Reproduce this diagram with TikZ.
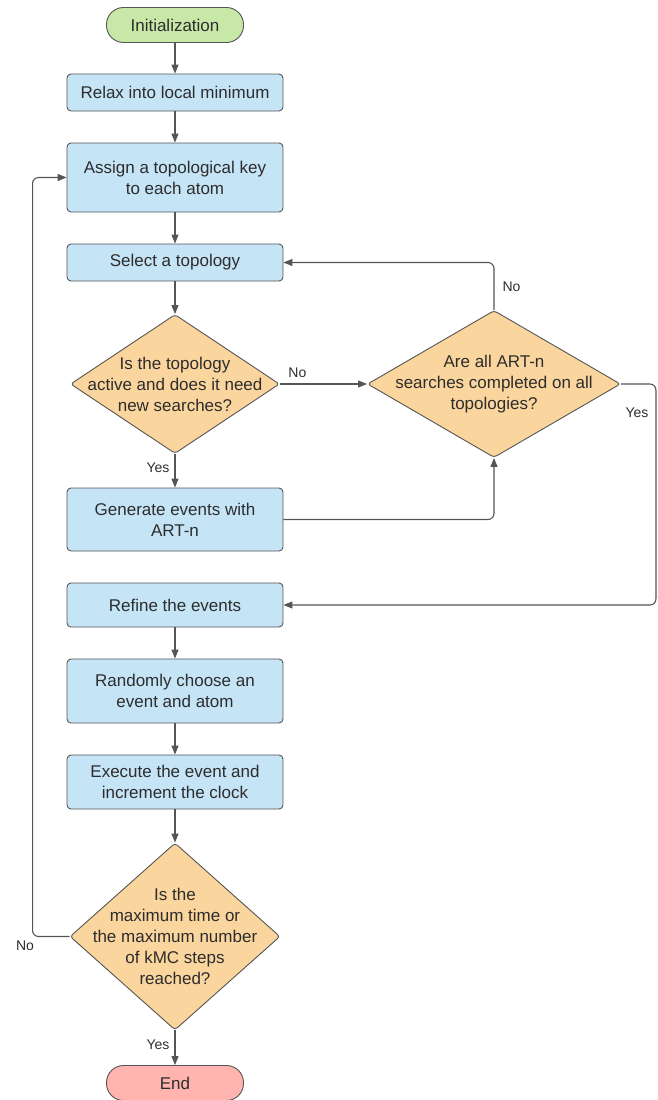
\documentclass[tikz,border=0pt]{standalone}
\usepackage{fontspec}
\setmainfont{Liberation Sans}
\usetikzlibrary{positioning, arrows.meta, shapes.geometric}
\definecolor{boxblue}{RGB}{197,228,246}
\definecolor{deciorange}{RGB}{250,213,158}
\definecolor{startgreen}{RGB}{200,232,168}
\definecolor{endred}{RGB}{255,180,175}
\definecolor{edgegray}{RGB}{85,85,85}
\definecolor{txtgray}{RGB}{45,45,45}

\begin{document}
\begin{tikzpicture}[
  x=1pt, y=-1pt,
  proc/.style={draw=edgegray, line width=0.9pt, fill=boxblue, rounded corners=4pt, minimum width=216pt, inner sep=0pt, align=center, text=txtgray, font=\fontsize{17}{21}\selectfont},
  term/.style={draw=edgegray, line width=0.9pt, rounded corners=17pt, minimum width=137pt, minimum height=35pt, inner sep=0pt, text=txtgray, font=\fontsize{17}{21}\selectfont},
  decision/.style={diamond, draw=edgegray, line width=0.9pt, fill=deciorange, rounded corners=3pt, inner xsep=-60pt, inner ysep=-40pt, align=center, text=txtgray, font=\fontsize{17}{21}\selectfont},
  lbl/.style={inner sep=2pt, text=txtgray, font=\fontsize{14}{16}\selectfont},
  flow/.style={draw=edgegray, line width=1.1pt, rounded corners=6pt, -{Triangle[length=9pt, width=7pt]}}
]
\useasboundingbox (0,0) rectangle (658,1100);

% main column
\node[term, fill=startgreen] (init) at (175,25) {Initialization};
\node[proc, minimum height=37pt] (relax) at (175,92.5) {Relax into local minimum};
\node[proc, minimum height=69pt] (assign) at (175,177.5) {Assign a topological key\\to each atom};
\node[proc, minimum height=37pt] (select) at (175,262.5) {Select a topology};
\node[decision, minimum width=209pt, minimum height=139pt] (active) at (175,384) {Is the topology\\active and does it need\\new searches?};
\node[proc, minimum height=63pt] (gen) at (175,519.5) {Generate events with\\ART-n};
\node[proc, minimum height=44pt] (refine) at (175,605) {Refine the events};
\node[proc, minimum height=64pt] (pick) at (175,691) {Randomly choose an\\event and atom};
\node[proc, minimum height=54pt] (exec) at (175,782) {Execute the event and\\increment the clock};
\node[decision, minimum width=210pt, minimum height=187pt] (maxed) at (175,936.5) {Is the\\maximum time or\\the maximum number\\of kMC steps\\reached?};
\node[term, fill=endred] (fin) at (175,1083) {End};

% right branch
\node[decision, minimum width=253pt, minimum height=147pt] (alldone) at (494,384) {Are all ART-n\\searches completed on all\\topologies?};

\draw[flow] (init) -- (relax);
\draw[flow] (relax) -- (assign);
\draw[flow] (assign) -- (select);
\draw[flow] (select) -- (active);
\draw[flow] (active.east) -- node[lbl, pos=0.2, above=4pt] {No} (alldone.west);
\draw[flow] (active.south) -- node[lbl, left=3pt, pos=0.4] {Yes} (gen.north);
\draw[flow] (gen.east) -| (alldone.south);
\draw[flow] (alldone.north) |- node[lbl, pos=0.25, right=6pt] {No} (select.east);
\draw[flow] (alldone.east) -- ++(35,0) node[lbl, below left=21pt and 5pt] {Yes} |- (refine.east);
\draw[flow] (refine) -- (pick);
\draw[flow] (pick) -- (exec);
\draw[flow] (exec) -- (maxed);
\draw[flow] (maxed.south) -- node[lbl, left=3pt, pos=0.4] {Yes} (fin.north);
\draw[flow] (maxed.west) -- ++(-37,0) node[lbl, below left=2pt and -4pt] {No} |- (assign.west);
\end{tikzpicture}
\end{document}
